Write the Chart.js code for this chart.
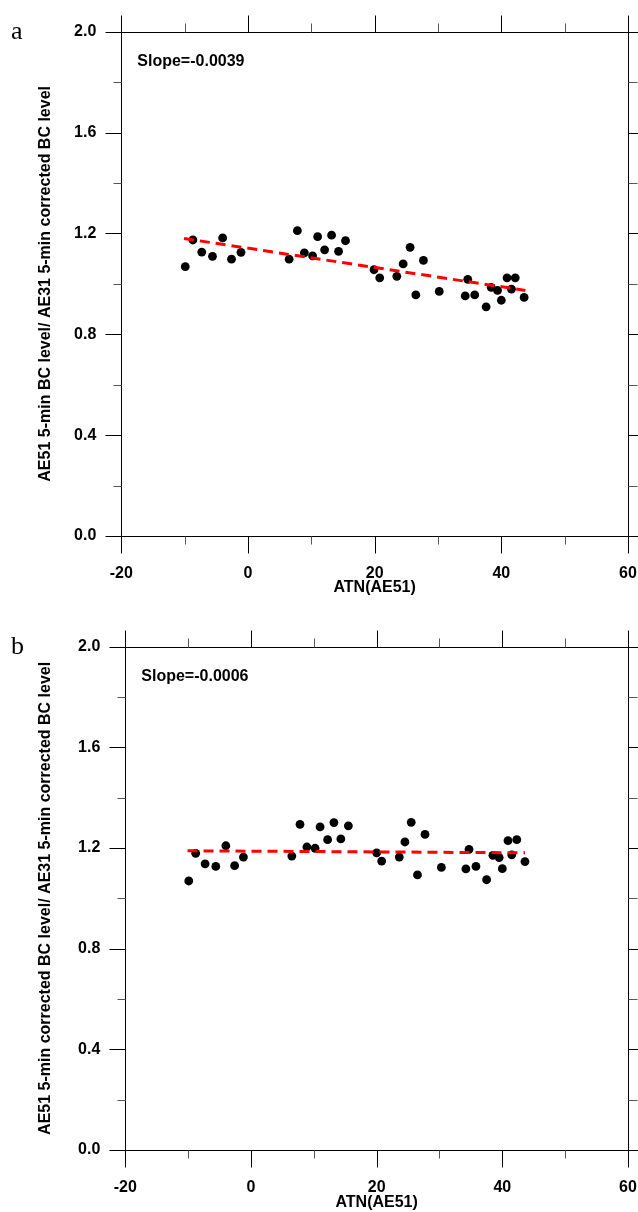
<!DOCTYPE html>
<html>
<head>
<meta charset="utf-8">
<script src="https://cdn.jsdelivr.net/npm/chart.js@4.4.1/dist/chart.umd.min.js"></script>
<style>
  html, body { margin: 0; padding: 0; background: #fff; }
  .panel { position: absolute; left: 0; }
</style>
</head>
<body>
<div class="panel" style="top:0"><canvas id="panelA" width="638" height="600"></canvas></div>
<div class="panel" style="top:600px"><canvas id="panelB" width="638" height="612"></canvas></div>
<script>
// panel a: AE51 raw / AE31 corrected
const atnA = [-9.9, -8.7, -7.3, -5.6, -4.0, -2.6, -1.1, 6.5, 7.8, 8.9, 10.2, 11.0, 12.1, 13.2, 14.3, 15.4,
  19.9, 20.8, 23.5, 24.5, 25.6, 26.5, 27.7, 30.2, 34.3, 34.7, 35.8, 37.6, 38.4, 39.4, 40.0, 40.9, 41.6, 42.2, 43.6];
const ratioA = [1.068, 1.174, 1.126, 1.109, 1.182, 1.098, 1.125, 1.098, 1.211, 1.123, 1.111, 1.187, 1.135, 1.193, 1.129, 1.171,
  1.056, 1.024, 1.030, 1.079, 1.145, 0.956, 1.093, 0.970, 0.952, 1.018, 0.956, 0.909, 0.986, 0.974, 0.935, 1.024, 0.979, 1.024, 0.946];
const fitAtnA = [-10.1, 43.8];
const fitA = [1.180, 0.974];

// panel b: AE51 corrected / AE31 corrected
const atnB = [-9.9, -8.8, -7.3, -5.6, -4.0, -2.6, -1.2, 6.5, 7.8, 8.9, 10.2, 11.0, 12.2, 13.2, 14.3, 15.5,
  20.0, 20.8, 23.6, 24.5, 25.5, 26.5, 27.7, 30.3, 34.2, 34.7, 35.8, 37.5, 38.5, 39.5, 40.0, 40.9, 41.5, 42.3, 43.6];
const ratioB = [1.069, 1.179, 1.137, 1.127, 1.209, 1.130, 1.164, 1.168, 1.294, 1.204, 1.199, 1.284, 1.233, 1.301, 1.236, 1.288,
  1.181, 1.148, 1.164, 1.224, 1.302, 1.093, 1.254, 1.123, 1.117, 1.195, 1.127, 1.074, 1.171, 1.162, 1.118, 1.229, 1.173, 1.233, 1.146];
const fitAtnB = [-10.1, 43.6];
const fitB = [1.189, 1.181];

// tick labels
const xMajor = [-20, 0, 20, 40, 60];
const xMinor = [-10, 10, 30, 50];
const yMajor = [0, 0.4, 0.8, 1.2, 1.6, 2.0];
const yMinor = [0.2, 0.6, 1.0, 1.4, 1.8];

const FONT = 'Arial, "Liberation Sans", Helvetica, sans-serif';

// box frame with outward ticks on all four sides, plus panel letter and slope note
const frameTicks = {
  id: 'frameTicks',
  afterDraw(chart, args, opts) {
    const ctx = chart.ctx;
    const a = chart.chartArea;
    const xs = chart.scales.x;
    const ys = chart.scales.y;
    ctx.save();
    ctx.lineWidth = 1;
    ctx.strokeStyle = '#000';
    ctx.strokeRect(Math.round(a.left) + 0.5, Math.round(a.top) + 0.5,
      Math.round(a.right) - Math.round(a.left), Math.round(a.bottom) - Math.round(a.top));

    function tick(x1, y1, x2, y2, color) {
      ctx.strokeStyle = color;
      ctx.beginPath();
      ctx.moveTo(x1, y1);
      ctx.lineTo(x2, y2);
      ctx.stroke();
    }
    const t = Math.round(a.top) + 0.5, b = Math.round(a.bottom) + 0.5;
    const l = Math.round(a.left) + 0.5, r = Math.round(a.right) + 0.5;
    xMajor.forEach(v => {
      const px = Math.round(xs.getPixelForValue(v)) + 0.5;
      tick(px, b, px, b + 17, '#000');
      tick(px, t, px, t - 17, '#000');
    });
    xMinor.forEach(v => {
      const px = Math.round(xs.getPixelForValue(v)) + 0.5;
      tick(px, b, px, b + 8, '#555');
      tick(px, t, px, t - 9, '#555');
    });
    yMajor.forEach(v => {
      const py = Math.round(ys.getPixelForValue(v)) + 0.5;
      tick(l, py, l - 16, py, '#000');
      tick(r, py, r + 17, py, '#000');
    });
    yMinor.forEach(v => {
      const py = Math.round(ys.getPixelForValue(v)) + 0.5;
      tick(l, py, l - 8, py, '#555');
      tick(r, py, r + 9, py, '#555');
    });

    ctx.fillStyle = '#000';
    ctx.textBaseline = 'alphabetic';
    ctx.textAlign = 'left';
    ctx.font = 'bold 16px ' + FONT;
    ctx.fillText(opts.slope, a.left + 16, a.top + 34);
    ctx.font = '26px "Liberation Serif", "Times New Roman", serif';
    ctx.fillText(opts.letter, 11, opts.letterY);
    ctx.restore();
  }
};

function makeChart(id, atn, ratio, fitAtn, fit, cfg) {
  const ctx = document.getElementById(id).getContext('2d');
  return new Chart(ctx, {
    type: 'scatter',
    data: {
      datasets: [
        {
          type: 'line',
          data: fitAtn.map((x, i) => ({ x: x, y: fit[i] })),
          borderColor: '#ff0000',
          borderWidth: 3,
          borderDash: [10, 6],
          pointRadius: 0,
          fill: false,
        },
        {
          data: atn.map((x, i) => ({ x: x, y: ratio[i] })),
          backgroundColor: '#000',
          borderWidth: 0,
          pointRadius: 4.4,
        },
      ],
    },
    options: {
      responsive: false,
      animation: false,
      devicePixelRatio: 1,
      layout: { padding: { top: cfg.top, right: 10, left: 0, bottom: 0 } },
      scales: {
        x: {
          type: 'linear',
          position: 'bottom',
          min: -20,
          max: 60,
          afterBuildTicks: s => { s.ticks = xMajor.map(v => ({ value: v })); },
          afterFit: s => {
            s.height = cfg.xHeight;
            s.paddingLeft = 0;
            s.paddingRight = 0;
          },
          ticks: {
            color: '#000',
            padding: 28,
            maxRotation: 0,
            font: { family: FONT, size: 16, weight: 'bold' },
          },
          grid: { display: false, drawTicks: false },
          border: { display: false },
          title: {
            display: true,
            text: 'ATN(AE51)',
            color: '#000',
            padding: { top: 0, bottom: cfg.xTitlePad },
            font: { family: FONT, size: 16, weight: 'bold' },
          },
        },
        y: {
          type: 'linear',
          position: 'left',
          min: 0,
          max: 2,
          afterBuildTicks: s => { s.ticks = yMajor.map(v => ({ value: v })); },
          afterFit: s => {
            s.width = cfg.yWidth;
            s.paddingTop = 0;
            s.paddingBottom = 0;
          },
          ticks: {
            color: '#000',
            padding: 25,
            callback: v => v.toFixed(1),
            font: { family: FONT, size: 16, weight: 'bold' },
          },
          grid: { display: false, drawTicks: false },
          border: { display: false },
          title: {
            display: true,
            text: cfg.yTitle,
            color: '#000',
            padding: { top: 36, bottom: 0 },
            font: { family: FONT, size: 16, weight: 'bold' },
          },
        },
      },
      plugins: {
        legend: { display: false },
        tooltip: { enabled: false },
        frameTicks: { slope: cfg.slope, letter: cfg.letter, letterY: cfg.letterY },
      },
    },
    plugins: [frameTicks],
  });
}

makeChart('panelA', atnA, ratioA, fitAtnA, fitA, {
  top: 31.7, xHeight: 64, yWidth: 121.3, xTitlePad: 3,
  yTitle: 'AE51 5-min BC level/ AE31 5-min corrected BC level',
  slope: 'Slope=-0.0039', letter: 'a', letterY: 39,
});
makeChart('panelB', atnB, ratioB, fitAtnB, fitB, {
  top: 46.7, xHeight: 62, yWidth: 125.3, xTitlePad: 0,
  yTitle: 'AE51 5-min corrected BC level/ AE31 5-min corrected BC level',
  slope: 'Slope=-0.0006', letter: 'b', letterY: 54,
});
</script>
</body>
</html>
